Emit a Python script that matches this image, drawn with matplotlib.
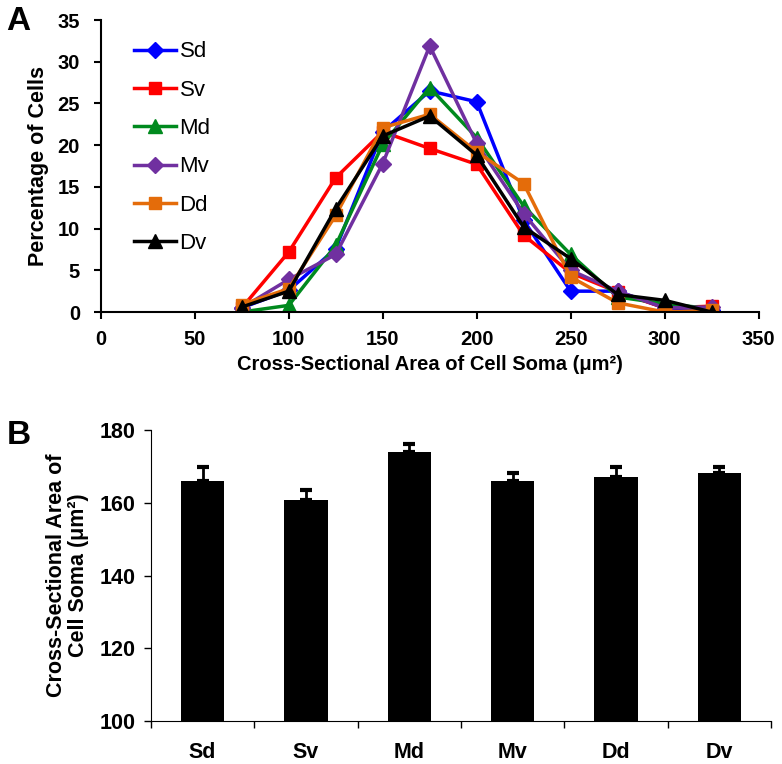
import matplotlib
matplotlib.use("Agg")
import matplotlib.pyplot as plt
import numpy as np

plt.rcParams['font.family'] = ['Liberation Sans', 'DejaVu Sans']

# Panel A: size distribution of cell soma area
area_bins = [75, 100, 125, 150, 175, 200, 225, 250, 275, 300, 325]
dist = {
    'Sd': [0.5, 2.6, 7.6, 21.6, 26.5, 25.2, 11.0, 2.5, 2.5, 0.5, 0.3],
    'Sv': [0.5, 7.2, 16.1, 21.6, 19.6, 17.7, 9.2, 4.7, 2.4, 0.5, 0.7],
    'Md': [0.0, 0.8, 8.0, 20.1, 26.9, 20.9, 12.7, 6.9, 1.8, 1.0, 0.4],
    'Mv': [0.5, 3.9, 6.9, 17.8, 31.9, 20.2, 11.8, 5.0, 2.5, 0.5, 0.6],
    'Dd': [0.9, 2.8, 11.6, 22.1, 23.7, 19.2, 15.4, 4.2, 1.1, 0.0, 0.2],
    'Dv': [0.6, 2.5, 12.4, 21.1, 23.5, 18.8, 10.2, 6.4, 2.1, 1.4, 0.0],
}
colors = {'Sd': '#0000FF', 'Sv': '#FF0000', 'Md': '#008A1E', 'Mv': '#7030A0',
          'Dd': '#E46C0A', 'Dv': '#000000'}
markers = {'Sd': 'D', 'Sv': 's', 'Md': '^', 'Mv': 'D', 'Dd': 's', 'Dv': '^'}
msizes = {'D': 8, 's': 8.5, '^': 9.5}

# Panel B: mean soma area per region
regions = ['Sd', 'Sv', 'Md', 'Mv', 'Dd', 'Dv']
mean_area = [166.0, 160.8, 174.0, 166.0, 167.1, 168.2]
sem_area = [3.8, 2.8, 2.3, 2.1, 2.7, 1.7]

fig = plt.figure(figsize=(7.82, 7.64), dpi=100)

axA = fig.add_axes([0.129, 0.5916, 0.841, 0.3822])
for name in regions:
    m = markers[name]
    axA.plot(area_bins, dist[name], color=colors[name], marker=m, ms=msizes[m],
             lw=2.5, label=name)
axA.set_xlim(0, 350)
axA.set_ylim(0, 35)
axA.set_xticks(range(0, 351, 50))
axA.set_yticks(range(0, 36, 5))
for s in ['top', 'right']:
    axA.spines[s].set_visible(False)
for s in ['left', 'bottom']:
    axA.spines[s].set_linewidth(1.5)
axA.tick_params(direction='out', length=5, width=1.5, labelsize=14.5)
axA.tick_params(axis='x', pad=8)
axA.tick_params(axis='y', pad=10)
for lab in axA.get_xticklabels() + axA.get_yticklabels():
    lab.set_fontweight('bold')
axA.set_xlabel('Cross-Sectional Area of Cell Soma (μm²)', fontsize=14.5,
               fontweight='bold', labelpad=4)
axA.set_ylabel('Percentage of Cells', fontsize=15.5, fontweight='bold', labelpad=6)
axA.legend(loc='upper left', bbox_to_anchor=(0.02, 0.995), frameon=False,
           fontsize=16, labelspacing=0.78, handlelength=1.9, handletextpad=0.15)

axB = fig.add_axes([0.193, 0.0563, 0.793, 0.3807])
x = np.arange(len(regions))
axB.bar(x, [v - 100 for v in mean_area], bottom=100, width=0.42, color='black')
axB.errorbar(x, mean_area, yerr=[np.zeros(len(regions)), sem_area], fmt='none',
             ecolor='black', elinewidth=2, capsize=4, capthick=3)
axB.set_xlim(-0.5, len(regions) - 0.5)
axB.set_ylim(100, 180)
axB.set_yticks(range(100, 181, 20))
axB.set_xticks(x)
axB.set_xticklabels(regions)
axB.set_xticks(np.arange(-0.5, len(regions), 1.0), minor=True)
axB.tick_params(axis='x', which='major', length=0, pad=15)
axB.tick_params(axis='x', which='minor', direction='out', length=5, width=1)
axB.tick_params(axis='y', direction='out', length=5, width=1, pad=6)
for s in ['top', 'right']:
    axB.spines[s].set_visible(False)
narrow = ['Liberation Sans Narrow', 'Liberation Sans', 'DejaVu Sans']
for lab in axB.get_xticklabels() + axB.get_yticklabels():
    lab.set_fontweight('bold')
    lab.set_family(narrow)
    lab.set_fontsize(15.5)
axB.set_ylabel('Cross-Sectional Area of\nCell Soma (μm²)', fontsize=15.5,
               fontweight='bold', labelpad=8, linespacing=1.05)

fig.text(0.008, 0.972, 'A', fontsize=24, fontweight='bold', va='center')
fig.text(0.008, 0.43, 'B', fontsize=24, fontweight='bold', va='center')

fig.savefig('out.png', dpi=100)
